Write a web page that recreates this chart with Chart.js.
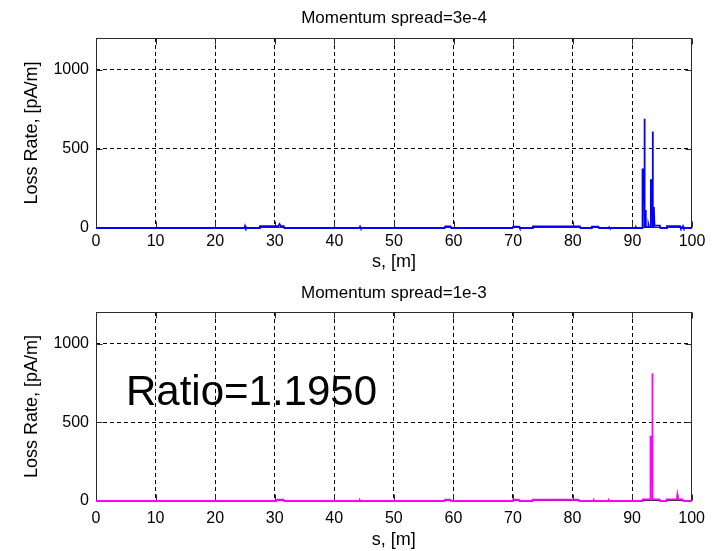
<!DOCTYPE html>
<html><head><meta charset="utf-8">
<script src="https://cdn.jsdelivr.net/npm/chart.js@4.4.0/dist/chart.umd.min.js"></script>
<style>
html,body{margin:0;padding:0;background:#fff;width:713px;height:551px;overflow:hidden}
canvas{position:absolute;left:0}
#c1{top:0}
#c2{top:276px}
</style></head><body>
<canvas id="c1" width="713" height="276"></canvas>
<canvas id="c2" width="713" height="275"></canvas>
<script>
// ---- data ----
const titles = ['Momentum spread=3e-4', 'Momentum spread=1e-3'];
const xLabel = 's, [m]';
const yLabel = 'Loss Rate, [pA/m]';
const ratioText = 'Ratio=1.1950';
const xTicks = [0, 10, 20, 30, 40, 50, 60, 70, 80, 90, 100];
const yTicks = [0, 500, 1000];

const sTop = [0, 24.9, 25.0, 25.1, 27.4, 27.5, 30.6, 30.8, 31.0, 31.5, 31.6, 44.2, 44.3, 44.4, 58.5, 58.6, 59.5, 59.6,
  69.9, 70.0, 71.0, 71.1, 73.2, 73.3, 81.2, 81.3, 83.1, 83.2, 84.3, 84.4, 86.0, 86.1, 86.2, 90.5, 90.6, 90.7,
  91.65, 91.7, 91.95, 92.0, 92.05, 92.1, 92.15, 92.25, 92.65, 92.7, 92.8, 93.05, 93.1, 93.35, 93.4, 93.45, 93.55,
  93.6, 93.7, 94.6, 94.7, 95.7, 95.8, 98.0, 98.1, 98.4, 98.5, 98.6, 100];
const lossTop = [0, 0, 12, 0, 0, 12, 12, 25, 12, 12, 0, 0, 8, 0, 0, 10, 10, 0,
  0, 8, 8, 0, 0, 10, 10, 0, 0, 8, 8, 0, 0, 5, 0, 0, 5, 0,
  0, 370, 370, 690, 5, 5, 113, 5, 5, 20, 5, 5, 303, 303, 610, 5, 5,
  133, 15, 15, 0, 0, 12, 12, 0, 0, 10, 0, 0];

const sBottom = [0, 30.3, 30.4, 31.5, 31.6, 44.2, 44.3, 44.4, 58.5, 58.6, 59.5, 59.6, 69.9, 70.0, 71.0, 71.1,
  73.2, 73.3, 81.0, 81.1, 83.5, 83.6, 83.7, 86.0, 86.1, 86.2, 91.7, 91.8, 93.05, 93.1, 93.35, 93.4, 93.45,
  94.6, 94.7, 95.7, 95.8, 97.5, 97.6, 97.7, 98.5, 98.6, 100];
const lossBottom = [0, 0, 8, 8, 0, 0, 5, 0, 0, 8, 8, 0, 0, 8, 8, 0,
  0, 8, 8, 0, 0, 5, 0, 0, 5, 0, 0, 10, 10, 408, 408, 811, 10,
  10, 0, 0, 10, 10, 38, 10, 10, 0, 0];

// ---- styling / helpers ----
const FONT = "'Liberation Sans', Arial, Helvetica, sans-serif";

const framePlugin = {
  id: 'frame',
  beforeDatasetsDraw(chart) {
    const {ctx, chartArea: a, scales: {x, y}} = chart;
    ctx.save();
    ctx.setLineDash([]);
    ctx.strokeStyle = '#2a2a2a';
    ctx.lineWidth = 1;
    const L = Math.round(a.left) + 0.5, R = Math.round(a.right) - 0.5;
    const T = Math.round(a.top) + 0.5, B = Math.round(a.bottom) - 0.5;
    ctx.strokeRect(L, T, R - L, B - T);
    const tl = 6;
    ctx.beginPath();
    xTicks.forEach(v => {
      const px = Math.round(x.getPixelForValue(v)) + 0.5;
      ctx.moveTo(px, B); ctx.lineTo(px, B - tl);
      ctx.moveTo(px, T); ctx.lineTo(px, T + tl);
    });
    yTicks.forEach(v => {
      const py = Math.round(y.getPixelForValue(v)) + 0.5;
      ctx.moveTo(L, py); ctx.lineTo(L + tl, py);
      ctx.moveTo(R, py); ctx.lineTo(R - tl, py);
    });
    ctx.stroke();
    ctx.restore();
  }
};

const textPlugin = {
  id: 'texts',
  afterDraw(chart) {
    const o = chart.options.plugins.texts || {};
    const ctx = chart.ctx, a = chart.chartArea;
    ctx.save();
    ctx.fillStyle = '#000';
    if (o.title) {
      ctx.font = '17px ' + FONT;
      ctx.textAlign = 'center';
      ctx.textBaseline = 'middle';
      ctx.fillText(o.title, (a.left + a.right) / 2, o.titleY);
    }
    if (o.ratio) {
      ctx.font = '42px ' + FONT;
      ctx.textBaseline = 'alphabetic';
      ctx.textAlign = 'left';
      ctx.fillText(o.ratio, 126, 129);
    }
    ctx.restore();
  }
};

const hideEdge = (vals) => (c) => (c.tick && vals.includes(c.tick.value)) ? 'rgba(0,0,0,0)' : '#000';

function makeChart(id, sArr, lossArr, color, title, cfg) {
  return new Chart(document.getElementById(id), {
    type: 'line',
    data: {
      datasets: [{
        data: sArr.map((s, i) => ({x: s, y: lossArr[i]})),
        borderColor: color,
        borderWidth: 1.8,
        pointRadius: 0,
        fill: false,
        tension: 0,
        clip: 3
      }]
    },
    options: {
      responsive: false,
      animation: false,
      devicePixelRatio: 1,
      layout: {padding: {left: 0, right: 21, top: cfg.top, bottom: 0}},
      plugins: {
        legend: {display: false},
        tooltip: {enabled: false},
        title: {display: false},
        texts: {title: title, titleY: cfg.titleY, ratio: cfg.ratio || ''}
      },
      scales: {
        x: {
          type: 'linear', min: 0, max: 100,
          afterBuildTicks: s => { s.ticks = xTicks.map(v => ({value: v})); },
          afterFit: s => { s.height = cfg.xHeight; },
          ticks: {color: '#000', font: {family: FONT, size: 16}, padding: cfg.xTickPad, maxRotation: 0, autoSkip: false,
                  callback: v => String(v)},
          grid: {color: hideEdge([0, 100]), lineWidth: 1, drawTicks: false},
          border: {display: false, dash: [4, 3]},
          title: {display: true, text: xLabel, color: '#000', font: {family: FONT, size: 18}, padding: {top: 0, bottom: cfg.xTitleBottom}}
        },
        y: {
          type: 'linear', min: 0, max: 1200,
          afterBuildTicks: s => { s.ticks = yTicks.map(v => ({value: v})); },
          afterFit: s => { s.width = 96; },
          ticks: {color: '#000', font: {family: FONT, size: 16}, padding: 7, callback: v => String(v)},
          grid: {color: hideEdge([0]), lineWidth: 1, drawTicks: false},
          border: {display: false, dash: [4, 3]},
          title: {display: true, text: yLabel, color: '#000', font: {family: FONT, size: 18}, padding: {top: 21, bottom: 0}}
        }
      }
    },
    plugins: [framePlugin, textPlugin]
  });
}

makeChart('c1', sTop, lossTop, '#0000ff', titles[0],
  {top: 38, titleY: 18, xHeight: 48, xTickPad: 4, xTitleBottom: 3});
makeChart('c2', sBottom, lossBottom, '#ff00ff', titles[1],
  {top: 36, titleY: 17, xHeight: 50, xTickPad: 8, xTitleBottom: 0, ratio: ratioText});
</script>
</body></html>
